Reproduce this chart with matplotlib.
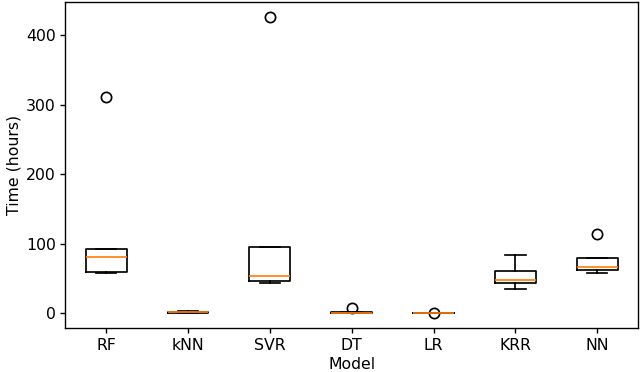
import matplotlib
matplotlib.use("Agg")
import matplotlib.pyplot as plt

models = ["RF", "kNN", "SVR", "DT", "LR", "KRR", "NN"]
whislo = [58, 0.5, 43.6, 0.2, 0.1, 34.5, 57.5]
q1 = [60, 1.0, 46, 0.5, 0.2, 43.6, 62.8]
med = [81, 1.5, 53.7, 1.0, 0.5, 47.5, 66.6]
q3 = [92, 2.5, 95.4, 2.0, 0.8, 60.4, 79.6]
whishi = [93, 3.0, 95.6, 2.5, 1.0, 84, 80]
fliers = [[311], [], [427], [8.2], [0.5], [], [114.6]]

s = 1.23
plt.rcParams.update({
    "font.size": 11.3,
    "axes.linewidth": 0.8 * s,
    "xtick.major.width": 0.8 * s,
    "ytick.major.width": 0.8 * s,
    "xtick.major.size": 3.3,
    "ytick.major.size": 3.3,
    "xtick.major.pad": 3.5,
    "ytick.major.pad": 3.5,
    "boxplot.boxprops.linewidth": 1.0 * s,
    "boxplot.whiskerprops.linewidth": 1.0 * s,
    "boxplot.capprops.linewidth": 1.0 * s,
    "boxplot.medianprops.linewidth": 1.0 * s,
    "boxplot.flierprops.markersize": 6 * s,
    "boxplot.flierprops.markeredgewidth": 1.0 * s,
})

stats = []
for i, m in enumerate(models):
    stats.append(dict(label=m, whislo=whislo[i], q1=q1[i], med=med[i],
                      q3=q3[i], whishi=whishi[i], fliers=fliers[i]))

fig = plt.figure(figsize=(6.4, 3.72), dpi=100)
ax = fig.add_subplot(111)
fig.subplots_adjust(left=0.102, right=0.997, top=0.995, bottom=0.118)
ax.bxp(stats, showfliers=True)
ax.set_xlabel("Model", labelpad=3)
ax.set_ylabel("Time (hours)", labelpad=3)
fig.savefig("out.png", dpi=100)
